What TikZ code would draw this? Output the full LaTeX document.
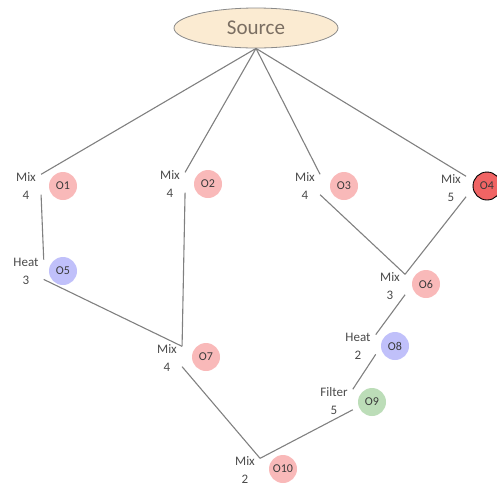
\documentclass[tikz,border=0pt]{standalone}
\usepackage{fontspec}
\setmainfont{Carlito}
\usetikzlibrary{shapes.geometric}
\definecolor{edgec}{HTML}{808080}
\definecolor{labc}{HTML}{4A4A4A}
\definecolor{opc}{HTML}{3A3A3A}
\definecolor{srcb}{HTML}{8A8A8A}
\definecolor{srcf}{HTML}{FBEBD2}
\definecolor{srct}{HTML}{7A6E62}
\definecolor{pinkf}{HTML}{F9B9B9}
\definecolor{bluef}{HTML}{C0C0FA}
\definecolor{greenf}{HTML}{BCDDB8}
\definecolor{redf}{HTML}{F06464}
\begin{document}
\begin{tikzpicture}[x=1pt,y=-1pt,
  lab/.style={align=center, inner xsep=5pt, inner ysep=0pt, font=\fontsize{13}{18}\selectfont, text=labc},
  op/.style={circle, minimum size=28pt, inner sep=0pt, font=\fontsize{12}{14}\selectfont, text=opc},
  conn/.style={draw=edgec, line width=1.1pt}]
\useasboundingbox (0,0) rectangle (497,483);
\node[ellipse, draw=srcb, fill=srcf, minimum width=164pt, minimum height=40pt, font=\fontsize{21}{23}\selectfont, text=srct, line width=0.8pt] (src) at (256,28) {Source};

% labels
\node[lab] (l1) at (26,186) {Mix\\4};
\node[lab] (l2) at (170,184) {Mix\\4};
\node[lab] (l3) at (305,186) {Mix\\4};
\node[lab] (l4) at (451,188) {Mix\\5};
\node[lab] (l5) at (26,271) {Heat\\3};
\node[lab] (l6) at (390,286) {Mix\\3};
\node[lab] (l7) at (167,358) {Mix\\4};
\node[lab] (l8) at (358,346) {Heat\\2};
\node[lab] (l9) at (334,401) {Filter\\5};
\node[lab] (l10) at (245,470) {Mix\\2};

% circles
\node[op, fill=pinkf] (o1) at (63,186) {O1};
\node[op, fill=pinkf] (o2) at (208,184) {O2};
\node[op, fill=pinkf] (o3) at (344,186) {O3};
\node[op, fill=redf, draw=black, line width=0.9pt] (o4) at (487,186) {O4};
\node[op, fill=bluef] (o5) at (63,271) {O5};
\node[op, fill=pinkf] (o6) at (426,284) {O6};
\node[op, fill=pinkf] (o7) at (206,357) {O7};
\node[op, fill=bluef] (o8) at (395,346) {O8};
\node[op, fill=greenf] (o9) at (372,402) {O9};
\node[op, fill=pinkf] (o10) at (283,469) {O10};

% attachment points
\foreach \n in {l1,l2,l3,l4,l5,l6,l7,l8,l9,l10}{
  \coordinate (\n i) at ([yshift=-2pt]\n.north east);
  \coordinate (\n o) at ([yshift=5pt]\n.south east);
}

% connectors
\draw[conn] (src.south) -- (l1i);
\draw[conn] (src.south) -- (l2i);
\draw[conn] (src.south) -- (l3i);
\draw[conn] (src.south) -- (l4i);
\draw[conn] (l1o) -- (l5i);
\draw[conn] (l5o) -- (l7i);
\draw[conn] (l2o) -- (l7i);
\draw[conn] (l3o) -- (l6i);
\draw[conn] (l4o) -- (l6i);
\draw[conn] (l6o) -- (l8i);
\draw[conn] (l8o) -- (l9i);
\draw[conn] (l7o) -- (l10i);
\draw[conn] (l9o) -- (l10i);
\end{tikzpicture}
\end{document}
